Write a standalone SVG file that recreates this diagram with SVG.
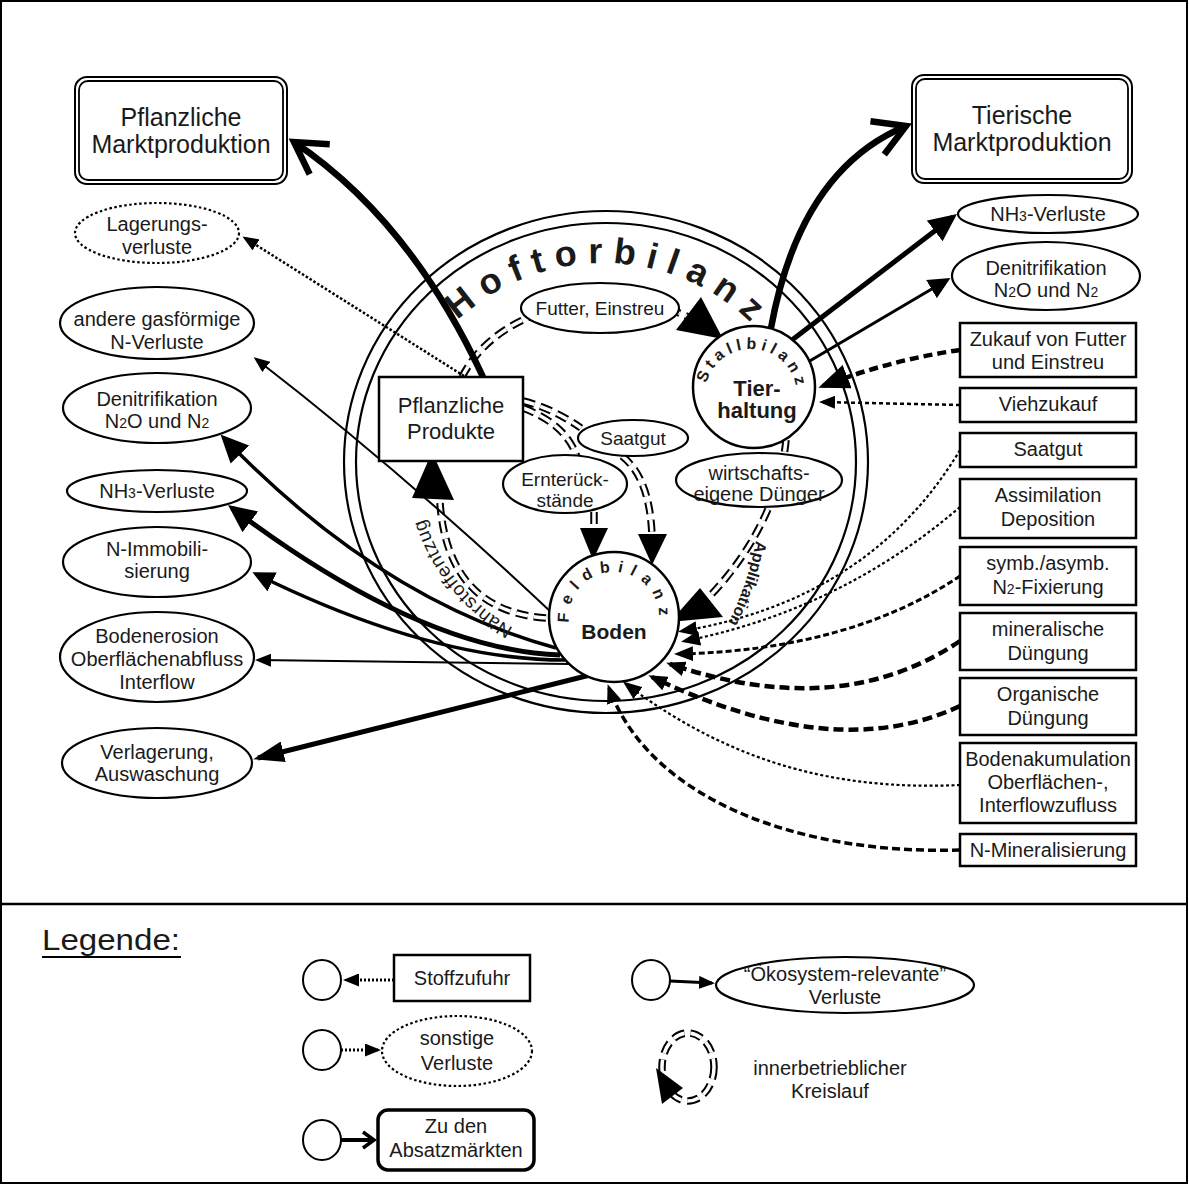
<svg xmlns="http://www.w3.org/2000/svg" width="1189" height="1185" viewBox="0 0 1189 1185" font-family="'Liberation Sans', Arial, Helvetica, sans-serif" font-size="20">
<style>
text{fill:#1a1a1a;text-anchor:middle}
.bx{fill:#fff;stroke:#000;stroke-width:2.5}
.el{fill:#fff;stroke:#000;stroke-width:2.2}
.dot{stroke-dasharray:2.5 2.5}
.ring{fill:none;stroke:#000;stroke-width:2.2}
.dd{fill:none;stroke:#000;stroke-width:7.5;stroke-dasharray:12 6}
.dw{fill:none;stroke:#fff;stroke-width:3.5;stroke-dasharray:12 6}
.c{fill:none;stroke:#000}
.bt{font-weight:bold}
</style>
<defs>
<marker id="aXL" markerUnits="userSpaceOnUse" viewBox="0 0 28 26" markerWidth="28" markerHeight="26" refX="23" refY="13" orient="auto"><path d="M0 0L28 13L0 26z"/></marker>
<marker id="aL" markerUnits="userSpaceOnUse" viewBox="0 0 31 21" markerWidth="31" markerHeight="21" refX="26" refY="10.5" orient="auto"><path d="M0 0L31 10.5L0 21z"/></marker>
<marker id="aM" markerUnits="userSpaceOnUse" viewBox="0 0 22 21" markerWidth="22" markerHeight="21" refX="18" refY="10.5" orient="auto"><path d="M0 0L22 10.5L0 21z"/></marker>
<marker id="aS" markerUnits="userSpaceOnUse" viewBox="0 0 16 13" markerWidth="16" markerHeight="13" refX="13" refY="6.5" orient="auto"><path d="M0 0L16 6.5L0 13z"/></marker>
<marker id="aI" markerUnits="userSpaceOnUse" viewBox="0 0 19 15" markerWidth="19" markerHeight="15" refX="15" refY="7.5" orient="auto"><path d="M0 0L19 7.5L0 15z"/></marker>
<marker id="aZ" markerUnits="userSpaceOnUse" viewBox="0 0 31 25" markerWidth="31" markerHeight="25" refX="26" refY="12.5" orient="auto"><path d="M0 0L31 12.5L0 25z"/></marker>
<marker id="ch" markerUnits="userSpaceOnUse" viewBox="-40 -24 48 48" markerWidth="48" markerHeight="48" refX="0" refY="0" orient="auto" overflow="visible"><path d="M-31 -18L0 0L-31 18" fill="none" stroke="#000" stroke-width="6.5"/></marker>
<marker id="chS" markerUnits="userSpaceOnUse" viewBox="-16 -12 20 24" markerWidth="20" markerHeight="24" refX="0" refY="0" orient="auto" overflow="visible"><path d="M-11 -8L0 0L-11 8" fill="none" stroke="#000" stroke-width="3.5"/></marker>
<path id="pHof" d="M390.1 469.3A213 213 0 0 1 815.9 482.7"/>
<path id="pNae" d="M569.75 648.5A190 190 0 0 1 416.03 458.68"/>
<path id="pApp" d="M758 528Q750 585 722 634"/>
<path id="pStall" d="M709.7 415.2A46 46 0 1 1 789.1 420.7"/>
<path id="pFeld" d="M575 639.5A45 45 0 1 1 653 639.5"/>
</defs>

<rect x="1" y="1" width="1186" height="1182" fill="#fff" stroke="#000" stroke-width="2"/>
<line x1="1" y1="904" x2="1188" y2="904" stroke="#000" stroke-width="2.5"/>

<g id="hoftorbilanz">
<ellipse class="ring" cx="606" cy="462" rx="262" ry="251"/>
<ellipse class="ring" cx="606" cy="462" rx="250" ry="239"/>
</g>

<g id="connectors">
<g id="kreislauf">
<path class="dd" d="M462 377C490 322 555 302 608 301C648 301 680 310 702 325M786 440C782 485 760 545 707 599M546 618Q448 611 440 503M523 401Q552 408 581 428M523 408Q566 424 577 457M622 456Q650 478 652 536M594 512L594 530"/>
<path class="dw" d="M462 377C490 322 555 302 608 301C648 301 680 310 702 325M786 440C782 485 760 545 707 599M546 618Q448 611 440 503M523 401Q552 408 581 428M523 408Q566 424 577 457M622 456Q650 478 652 536M594 512L594 530"/>
<polygon points="723,339 676,330 701,297"/>
<polygon points="670,622 700,588 723,617"/>
<polygon points="432,452 412,498 454,500"/>
<polygon points="593,560 580,528 608,528"/>
<polygon points="652,565 638,534 667,534"/>
</g>
<path class="c" d="M483 377Q410 220 294 142" stroke-width="6.5" marker-end="url(#ch)"/>
<path class="c" d="M771 328Q800 170 906 126" stroke-width="6.5" marker-end="url(#ch)"/>
<path class="c" d="M464 376L245 238" stroke-width="2.5" stroke-dasharray="2.5 2" marker-end="url(#aS)"/>
<path class="c" d="M792 340L953 217" stroke-width="5" marker-end="url(#aXL)"/>
<path class="c" d="M808 362L947 280" stroke-width="3" marker-end="url(#aM)"/>
<path class="c" d="M960 350Q890 360 823 386" stroke-width="4.5" stroke-dasharray="9 5" marker-end="url(#aZ)"/>
<path class="c" d="M960 405L822 402" stroke-width="2.5" stroke-dasharray="4 3" marker-end="url(#aS)"/>
<path class="c" d="M552 613Q400 470 256 359" stroke-width="2" marker-end="url(#aS)"/>
<path class="c" d="M556 648Q380 600 224 438" stroke-width="3.5" marker-end="url(#aXL)"/>
<path class="c" d="M560 655Q420 650 232 508" stroke-width="5" marker-end="url(#aXL)"/>
<path class="c" d="M565 660Q430 660 256 574" stroke-width="3.5" marker-end="url(#aM)"/>
<path class="c" d="M570 664L258 660" stroke-width="2" marker-end="url(#aS)"/>
<path class="c" d="M590 675L258 758" stroke-width="5" marker-end="url(#aL)"/>
<path class="c" d="M960 450Q870 600 682 631" stroke-width="2.2" stroke-dasharray="3 2.5" marker-end="url(#aI)"/>
<path class="c" d="M960 507Q840 610 685 641" stroke-width="2.2" stroke-dasharray="3 2.5" marker-end="url(#aI)"/>
<path class="c" d="M960 576Q850 650 678 654" stroke-width="3" stroke-dasharray="6 3" marker-end="url(#aI)"/>
<path class="c" d="M960 641Q840 722 670 664" stroke-width="4.5" stroke-dasharray="10 5" marker-end="url(#aI)"/>
<path class="c" d="M960 706Q835 765 652 677" stroke-width="4.5" stroke-dasharray="10 5" marker-end="url(#aI)"/>
<path class="c" d="M960 785C850 790 740 770 626 684" stroke-width="2.2" stroke-dasharray="3 2.5" marker-end="url(#aI)"/>
<path class="c" d="M960 850C800 855 650 800 609 688" stroke-width="3.5" stroke-dasharray="8 4" marker-end="url(#aI)"/>
</g>

<g id="bilanz-labels">
<text class="bt" font-size="36" letter-spacing="10.3"><textPath href="#pHof" startOffset="50%">Hoftorbilanz</textPath></text>
<text font-size="19" letter-spacing="0.7"><textPath href="#pNae" startOffset="50%">Nährstoffentzug</textPath></text>
<text class="bt" font-size="16"><textPath href="#pApp" startOffset="50%">Applikation</textPath></text>
</g>

<g id="pflanzliche-marktproduktion">
<rect x="75" y="77" width="212" height="107" rx="12" fill="#fff" stroke="#000" stroke-width="2"/>
<rect x="79" y="81" width="204" height="99" rx="9" fill="none" stroke="#000" stroke-width="1.8"/>
<text x="181" y="126" font-size="25">Pflanzliche</text>
<text x="181" y="153" font-size="25">Marktproduktion</text>
</g>
<g id="tierische-marktproduktion">
<rect x="912" y="75" width="220" height="108" rx="12" fill="#fff" stroke="#000" stroke-width="2"/>
<rect x="916" y="79" width="212" height="100" rx="9" fill="none" stroke="#000" stroke-width="1.8"/>
<text x="1022" y="124" font-size="25">Tierische</text>
<text x="1022" y="151" font-size="25">Marktproduktion</text>
</g>

<g id="lagerungsverluste"><ellipse class="el dot" cx="157" cy="233" rx="82" ry="30" stroke-width="2.5"/><text x="157" y="231">Lagerungs-</text><text x="157" y="254">verluste</text></g>
<g id="andere-gasfoermige"><ellipse class="el" cx="157" cy="323" rx="97" ry="36"/><text x="157" y="326">andere gasförmige</text><text x="157" y="349">N-Verluste</text></g>
<g id="denitrifikation-links"><ellipse class="el" cx="157" cy="408" rx="94" ry="35"/><text x="157" y="406">Denitrifikation</text><text x="157" y="428">N<tspan font-size="14">2</tspan>O und N<tspan font-size="14">2</tspan></text></g>
<g id="nh3-links"><ellipse class="el" cx="157" cy="491" rx="90" ry="21"/><text x="157" y="498">NH<tspan font-size="14">3</tspan>-Verluste</text></g>
<g id="n-immobilisierung"><ellipse class="el" cx="157" cy="562" rx="94" ry="35"/><text x="157" y="556">N-Immobili-</text><text x="157" y="578">sierung</text></g>
<g id="bodenerosion"><ellipse class="el" cx="157" cy="657" rx="97" ry="45"/><text x="157" y="643">Bodenerosion</text><text x="157" y="666">Oberflächenabfluss</text><text x="157" y="689">Interflow</text></g>
<g id="verlagerung"><ellipse class="el" cx="157" cy="763" rx="95" ry="35"/><text x="157" y="759">Verlagerung,</text><text x="157" y="781">Auswaschung</text></g>

<g id="nh3-rechts"><ellipse class="el" cx="1048" cy="214" rx="90" ry="19"/><text x="1048" y="221">NH<tspan font-size="14">3</tspan>-Verluste</text></g>
<g id="denitrifikation-rechts"><ellipse class="el" cx="1046" cy="276" rx="94" ry="34"/><text x="1046" y="275">Denitrifikation</text><text x="1046" y="297">N<tspan font-size="14">2</tspan>O und N<tspan font-size="14">2</tspan></text></g>

<g id="zukauf-futter"><rect class="bx" x="960" y="323" width="176" height="54"/><text x="1048" y="346">Zukauf von Futter</text><text x="1048" y="369">und Einstreu</text></g>
<g id="viehzukauf"><rect class="bx" x="960" y="388" width="176" height="34"/><text x="1048" y="411">Viehzukauf</text></g>
<g id="saatgut-zufuhr"><rect class="bx" x="960" y="433" width="176" height="34"/><text x="1048" y="456">Saatgut</text></g>
<g id="assimilation"><rect class="bx" x="960" y="479" width="176" height="59"/><text x="1048" y="502">Assimilation</text><text x="1048" y="526">Deposition</text></g>
<g id="n2-fixierung"><rect class="bx" x="960" y="547" width="176" height="58"/><text x="1048" y="570">symb./asymb.</text><text x="1048" y="594">N<tspan font-size="14">2</tspan>-Fixierung</text></g>
<g id="mineralische-duengung"><rect class="bx" x="960" y="613" width="176" height="57"/><text x="1048" y="636">mineralische</text><text x="1048" y="660">Düngung</text></g>
<g id="organische-duengung"><rect class="bx" x="960" y="678" width="176" height="57"/><text x="1048" y="701">Organische</text><text x="1048" y="725">Düngung</text></g>
<g id="bodenakumulation"><rect class="bx" x="960" y="743" width="176" height="80"/><text x="1048" y="766">Bodenakumulation</text><text x="1048" y="789">Oberflächen-,</text><text x="1048" y="812">Interflowzufluss</text></g>
<g id="n-mineralisierung"><rect class="bx" x="960" y="834" width="176" height="32"/><text x="1048" y="857">N-Mineralisierung</text></g>

<g id="pflanzliche-produkte"><rect class="bx" x="379" y="377" width="144" height="84"/><text x="451" y="413" font-size="22">Pflanzliche</text><text x="451" y="439" font-size="22">Produkte</text></g>
<g id="futter-einstreu"><ellipse class="el" cx="600" cy="308" rx="79" ry="25"/><text x="600" y="315" font-size="19">Futter, Einstreu</text></g>
<g id="saatgut-intern"><ellipse class="el" cx="633" cy="438" rx="55" ry="18"/><text x="633" y="445" font-size="19">Saatgut</text></g>
<g id="ernterueckstaende"><ellipse class="el" cx="565" cy="484" rx="62" ry="29"/><text x="565" y="486" font-size="19">Ernterück-</text><text x="565" y="507" font-size="19">stände</text></g>
<g id="wirtschaftseigene-duenger"><ellipse class="el" cx="759" cy="480" rx="83" ry="27"/><text x="759" y="480">wirtschafts-</text><text x="759" y="501">eigene Dünger</text></g>
<g id="tierhaltung"><circle cx="754" cy="387" r="61" fill="#fff" stroke="#000" stroke-width="2.5"/><text class="bt" font-size="16" letter-spacing="4.4"><textPath href="#pStall" startOffset="50%">Stallbilanz</textPath></text><text class="bt" x="757" y="396" font-size="22">Tier-</text><text class="bt" x="757" y="418" font-size="22">haltung</text></g>
<g id="boden"><circle cx="614" cy="617" r="65" fill="#fff" stroke="#000" stroke-width="2.5"/><text class="bt" font-size="16" letter-spacing="7.4"><textPath href="#pFeld" startOffset="50%">Feldbilanz</textPath></text><text class="bt" x="614" y="639" font-size="21">Boden</text></g>

<g id="legend">
<text x="42" y="950" font-size="30" textLength="138" lengthAdjust="spacingAndGlyphs" style="text-anchor:start">Legende:</text>
<line x1="42" y1="957" x2="181" y2="957" stroke="#000" stroke-width="2"/>
<ellipse cx="322" cy="980" rx="19" ry="20" fill="#fff" stroke="#000" stroke-width="2"/>
<path class="c" d="M394 980L346 980" stroke-width="3" stroke-dasharray="2 2" marker-end="url(#aS)"/>
<rect class="bx" x="394" y="955" width="136" height="46"/><text x="462" y="985">Stoffzufuhr</text>
<ellipse cx="651" cy="980" rx="19" ry="20" fill="#fff" stroke="#000" stroke-width="2"/>
<path class="c" d="M670 981L712 983" stroke-width="3" marker-end="url(#aS)"/>
<ellipse class="el" cx="845" cy="985" rx="129" ry="28" stroke-width="2.5"/><text x="845" y="981">“Ökosystem-relevante”</text><text x="845" y="1004">Verluste</text>
<ellipse cx="322" cy="1050" rx="19" ry="20" fill="#fff" stroke="#000" stroke-width="2"/>
<path class="c" d="M341 1050L378 1050" stroke-width="3" stroke-dasharray="2 2" marker-end="url(#aS)"/>
<ellipse class="el dot" cx="457" cy="1051" rx="75" ry="35" stroke-width="2.5"/><text x="457" y="1045">sonstige</text><text x="457" y="1070">Verluste</text>
<ellipse cx="322" cy="1140" rx="19" ry="20" fill="#fff" stroke="#000" stroke-width="2"/>
<path class="c" d="M341 1140L374 1140" stroke-width="4" marker-end="url(#chS)"/>
<rect x="378" y="1110" width="156" height="60" rx="10" fill="#fff" stroke="#000" stroke-width="3.5"/><text x="456" y="1133">Zu den</text><text x="456" y="1157">Absatzmärkten</text>
<ellipse class="dd" cx="688" cy="1067" rx="26" ry="34" stroke-width="7" stroke-dasharray="9 5"/>
<ellipse class="dw" cx="688" cy="1067" rx="26" ry="34" stroke-width="3" stroke-dasharray="9 5"/>
<polygon points="662,1104 656,1068 683,1088"/>
<text x="830" y="1075">innerbetrieblicher</text><text x="830" y="1098">Kreislauf</text>
</g>
</svg>
